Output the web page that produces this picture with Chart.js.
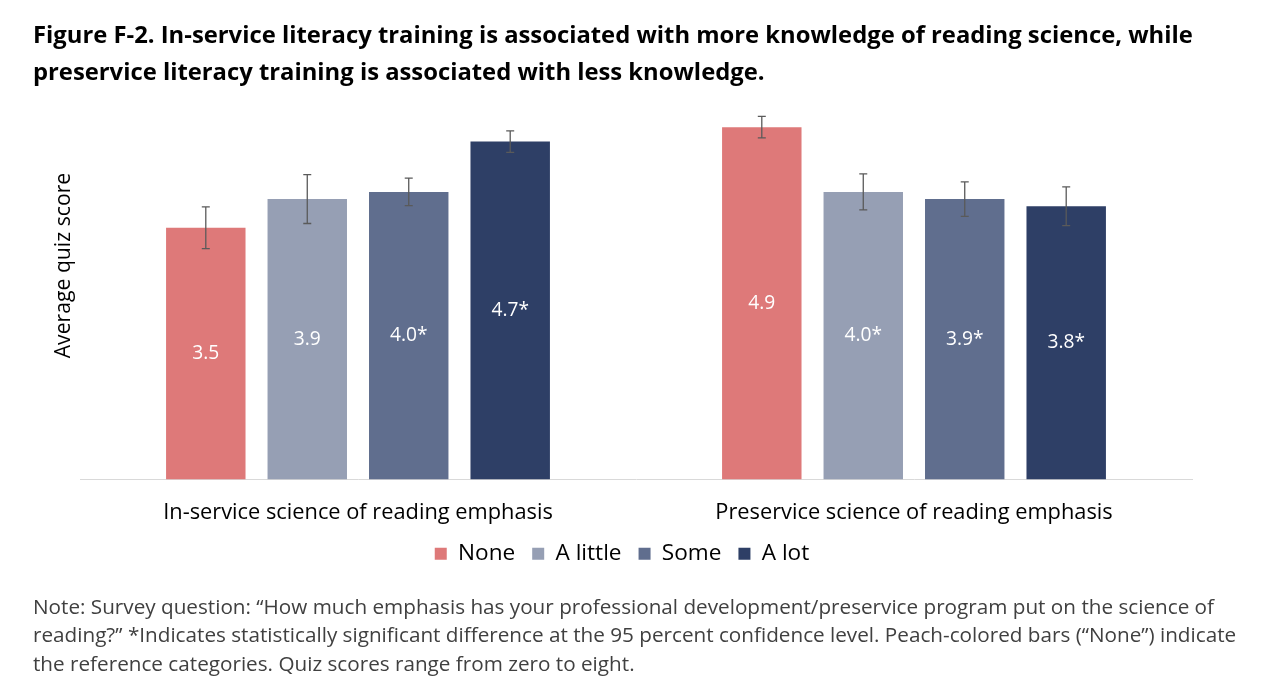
<!DOCTYPE html>
<html lang="en">
<head>
	<meta charset="UTF-8">
	<title>Figure F-2</title>
	<script src="https://cdn.jsdelivr.net/npm/chart.js"></script>
	<style>
		body { margin: 0; background: #fff; }
	</style>
</head>
<body>
	<canvas id="quizChart" width="1280" height="695"></canvas>
<script>
	const categories = ['In-service science of reading emphasis', 'Preservice science of reading emphasis'];
	const seriesNames = ['None', 'A little', 'Some', 'A lot'];
	const seriesColors = ['#DE7979', '#969FB4', '#606E8E', '#2E3F66'];

	// average quiz score per category: [in-service, preservice]
	const noneScores = [3.5, 4.9];
	const aLittleScores = [3.9, 4.0];
	const someScores = [4.0, 3.9];
	const aLotScores = [4.7, 3.8];

	// half-width of the error bars
	const noneErr = [0.29, 0.15];
	const aLittleErr = [0.34, 0.25];
	const someErr = [0.19, 0.24];
	const aLotErr = [0.15, 0.27];

	// statistically significant (gets a *)
	const noneSig = [false, false];
	const aLittleSig = [false, true];
	const someSig = [true, true];
	const aLotSig = [true, true];

	const titleLines = [
		'Figure F-2. In-service literacy training is associated with more knowledge of reading science, while',
		'preservice literacy training is associated with less knowledge.'
	];
	const noteLines = [
		'Note: Survey question: \u201cHow much emphasis has your professional development/preservice program put on the science of',
		'reading?\u201d *Indicates statistically significant difference at the 95 percent confidence level. Peach-colored bars (\u201cNone\u201d) indicate',
		'the reference categories. Quiz scores range from zero to eight.'
	];
	const yTitle = 'Average quiz score';

	const allScores = [noneScores, aLittleScores, someScores, aLotScores];
	const allErr = [noneErr, aLittleErr, someErr, aLotErr];
	const allSig = [noneSig, aLittleSig, someSig, aLotSig];

	const FONT = '"Open Sans"';
	Chart.defaults.font.family = FONT;

	// pick a font size so a line comes out about as wide as in the original (Calibri there)
	const measureCtx = document.createElement('canvas').getContext('2d');
	function fitSize(text, weight, width) {
		measureCtx.font = weight + ' 100px ' + FONT;
		return Math.round(100 * width / measureCtx.measureText(text).width * 10) / 10;
	}
	const titleSize = fitSize(titleLines[0], 'bold', 1159);
	const noteSize = fitSize(noteLines[1], 'normal', 1205);
	const tickSize = fitSize(categories[0], 'normal', 389);
	const legendSize = fitSize('A little', 'normal', 66);
	const yTitleSize = fitSize(yTitle, 'normal', 186);
	const barLabelSize = fitSize('3.5', 'normal', 27);

	const extras = {
		id: 'extras',
		afterDatasetsDraw(chart) {
			const ctx = chart.ctx;
			const y = chart.scales.y;
			ctx.save();
			chart.data.datasets.forEach((ds, i) => {
				const meta = chart.getDatasetMeta(i);
				meta.data.forEach((bar, j) => {
					const v = ds.data[j];
					const e = allErr[i][j];
					const top = y.getPixelForValue(v + e);
					const bot = y.getPixelForValue(v - e);
					ctx.strokeStyle = '#5a5a5a';
					ctx.lineWidth = 1.3;
					ctx.beginPath();
					ctx.moveTo(bar.x, top); ctx.lineTo(bar.x, bot);
					ctx.moveTo(bar.x - 4, top); ctx.lineTo(bar.x + 4, top);
					ctx.moveTo(bar.x - 4, bot); ctx.lineTo(bar.x + 4, bot);
					ctx.stroke();

					ctx.fillStyle = '#ffffff';
					ctx.font = barLabelSize + 'px ' + FONT;
					ctx.textAlign = 'center';
					ctx.textBaseline = 'middle';
					const label = v.toFixed(1) + (allSig[i][j] ? '*' : '');
					ctx.fillText(label, bar.x, (bar.y + bar.base) / 2);
				});
			});
			// y axis title, sitting a bit above the middle like the original
			const a = chart.chartArea;
			ctx.save();
			ctx.translate(64, a.top + (a.bottom - a.top) * 0.405);
			ctx.rotate(-Math.PI / 2);
			ctx.fillStyle = '#000';
			ctx.font = yTitleSize + 'px ' + FONT;
			ctx.textAlign = 'center';
			ctx.textBaseline = 'middle';
			ctx.fillText(yTitle, 0, 0);
			ctx.restore();

			// note under the legend; it runs wider than the legend box, so it is drawn here
			ctx.fillStyle = '#404040';
			ctx.font = noteSize + 'px ' + FONT;
			ctx.textAlign = 'left';
			ctx.textBaseline = 'middle';
			const noteTop = chart.legend.bottom + 33;
			noteLines.forEach((line, k) => ctx.fillText(line, 33, noteTop + k * 28.5));
			ctx.restore();
		}
	};

	const blankAxis = {
		grid: { display: false, drawTicks: false },
		border: { display: false },
		ticks: { display: false }
	};

	new Chart(document.getElementById('quizChart'), {
		type: 'bar',
		data: {
			labels: categories,
			datasets: seriesNames.map((name, i) => ({
				label: name,
				data: allScores[i],
				backgroundColor: seriesColors[i],
				borderWidth: 0,
				categoryPercentage: 0.73,
				barPercentage: 0.783
			}))
		},
		options: {
			responsive: false,
			animation: false,
			layout: { padding: { left: 33, right: 69, top: 0, bottom: 120 } },
			scales: {
				x: {
					grid: { display: false, drawTicks: false },
					border: { display: true, color: '#d9d9d9', width: 1 },
					ticks: { color: '#000', font: { size: tickSize }, padding: 20 },
					afterFit(scale) { scale.height = 46; }
				},
				y: {
					...blankAxis,
					min: 0,
					max: 5,
					afterFit(scale) { scale.width = 47; }
				},
				// empty right-hand axis, keeps the plot a little inside the legend box
				yRight: {
					...blankAxis,
					position: 'right',
					min: 0,
					max: 5,
					afterFit(scale) { scale.width = 19; }
				}
			},
			plugins: {
				title: {
					display: true,
					text: titleLines,
					align: 'start',
					color: '#000',
					font: { size: titleSize, weight: 'bold', lineHeight: 37 / titleSize },
					padding: { top: 18, bottom: 28 }
				},
				legend: {
					position: 'bottom',
					labels: {
						color: '#000',
						boxWidth: 12,
						boxHeight: 12,
						padding: 17,
						font: { size: legendSize }
					}
				},
				tooltip: { enabled: false }
			}
		},
		plugins: [extras]
	});
</script>
</body>
</html>
